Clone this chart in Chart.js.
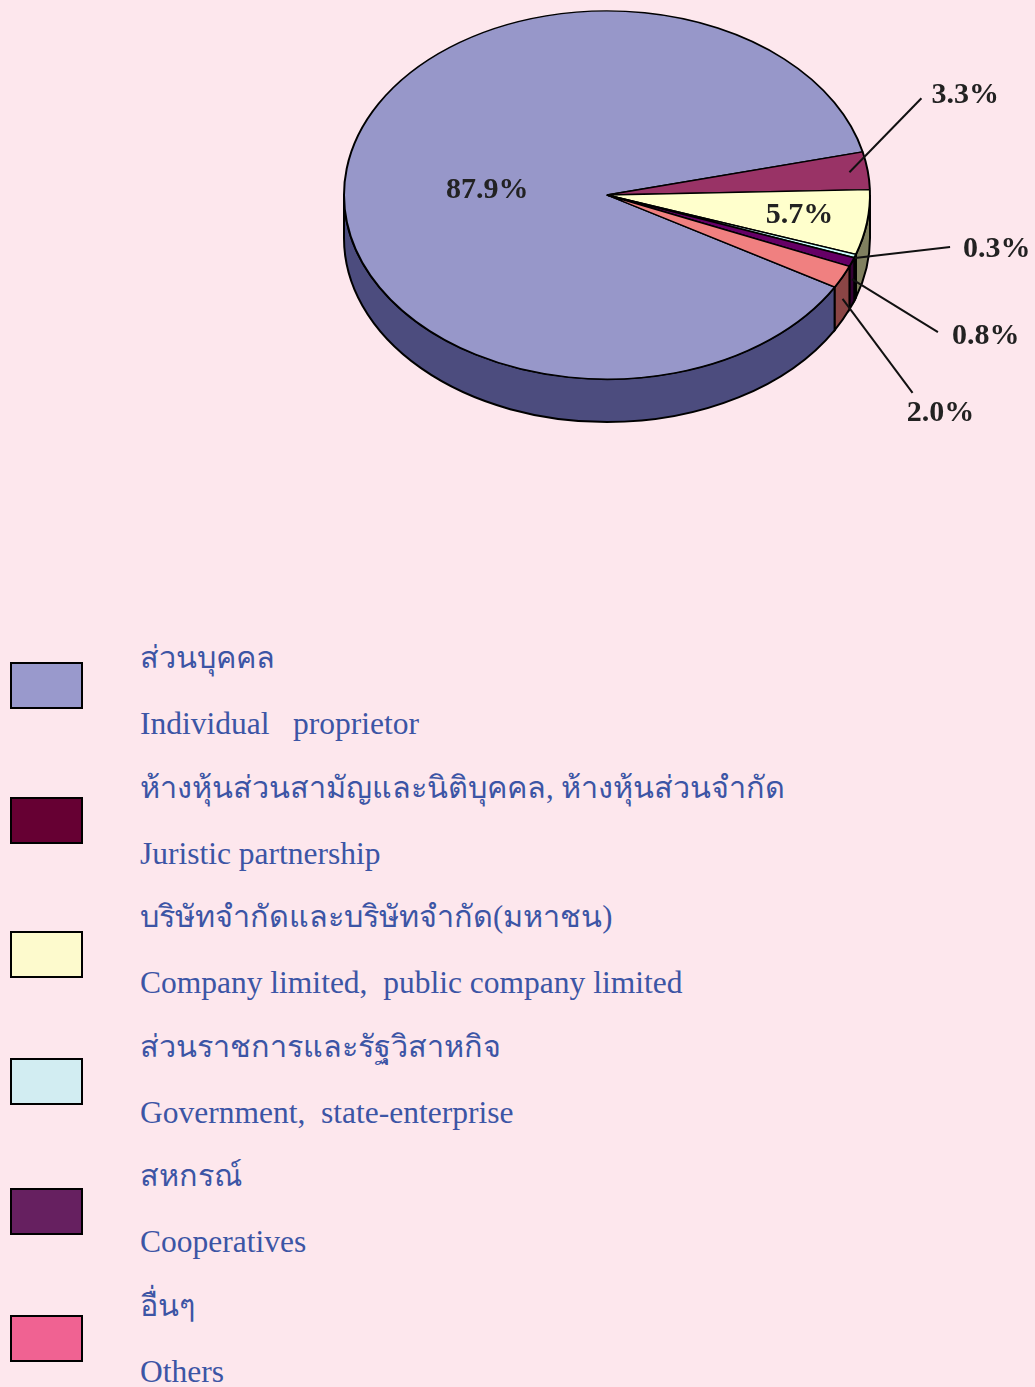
<!DOCTYPE html>
<html>
<head>
<meta charset="utf-8">
<script src="https://cdn.jsdelivr.net/npm/chart.js@4"></script>
<style>
  html, body { margin: 0; padding: 0; }
  body { width: 1035px; height: 1387px; background: #fde7ed; position: relative; overflow: hidden; }
  #pieChart { position: absolute; left: 0; top: 0; }
  .swatch { position: absolute; left: 10px; width: 69px; height: 43px; border: 2px solid #000; }
  .thai, .eng { position: absolute; left: 140px; color: #3c55a5; white-space: pre; line-height: 1; }
  .thai { font-family: "Liberation Serif", "Noto Sans", "DejaVu Sans", serif; font-size: 30.6px; }
  .eng { font-family: "Liberation Serif", "Times New Roman", serif; font-size: 31.5px; }
</style>
</head>
<body>
<canvas id="pieChart" width="1035" height="560"></canvas>
<div id="legend"></div>
<script>
// Share of establishments by legal organization (%)
const shares = [87.9, 3.3, 5.7, 0.3, 0.8, 2.0];
const thaiLabels = [
    'ส่วนบุคคล',
    'ห้างหุ้นส่วนสามัญและนิติบุคคล, ห้างหุ้นส่วนจำกัด',
    'บริษัทจำกัดและบริษัทจำกัด(มหาชน)',
    'ส่วนราชการและรัฐวิสาหกิจ',
    'สหกรณ์',
    'อื่นๆ'
];
const englishLabels = [
    'Individual   proprietor',
    'Juristic partnership',
    'Company limited,  public company limited',
    'Government,  state-enterprise',
    'Cooperatives',
    'Others'
];

// colours
const topColors = ['#9797c9', '#993366', '#ffffcc', '#ccffff', '#660066', '#f08080'];
const sideColors = ['#4c4c7e', '#4d1a33', '#80805f', '#668080', '#330033', '#8a4545'];
const legendColors = ['#9999cc', '#660033', '#fdfacd', '#d2edf2', '#662060', '#f06292'];

// 3d look
const flatten = 0.70;
const depth = 43;
const pieCenterY = 195;

// label layout per slice: inside radius, or leader line
const labelLayout = [
    { inside: 0.46, ty: 7 },
    { r: 0.93, drop: 0, dx: 72, dy: -74, tx: 10, ty: -3, align: 'left' },
    { inside: 0.74, ty: 0 },
    { r: 1.0, drop: 2, dx: 95, dy: -11, tx: 13, ty: 2, align: 'left' },
    { r: 1.0, drop: 17, dx: 86, dy: 53, tx: 14, ty: 4, align: 'left' },
    { r: 1.0, drop: 22, dx: 70, dy: 94, tx: 28, ty: 20, align: 'center' }
];

// legend swatch offsets below each row top (they are not evenly spaced)
const swatchOffsets = [22, 27, 32, 29, 30, 27];

function screenPoint(cx, cy, R, a, frac) {
    return {
        x: cx + R * frac * Math.cos(a),
        y: cy + R * frac * flatten * Math.sin(a)
    };
}

const pie3d = {
    id: 'pie3d',
    beforeDatasetsDraw(chart) {
        const ctx = chart.ctx;
        const arcs = chart.getDatasetMeta(0).data;
        const cx = arcs[0].x;
        const R = arcs[0].outerRadius;
        const ry = R * flatten;
        // side walls, front half only
        arcs.forEach((arc, i) => {
            let s = arc.startAngle, e = arc.endAngle;
            for (let k = -1; k <= 1; k++) {
                const lo = Math.max(s, k * 2 * Math.PI);
                const hi = Math.min(e, k * 2 * Math.PI + Math.PI);
                if (hi <= lo) continue;
                ctx.save();
                ctx.beginPath();
                ctx.ellipse(cx, pieCenterY, R, ry, 0, lo, hi);
                ctx.ellipse(cx, pieCenterY + depth, R, ry, 0, hi, lo, true);
                ctx.closePath();
                ctx.fillStyle = sideColors[i];
                ctx.fill();
                ctx.lineWidth = 2;
                ctx.strokeStyle = '#000';
                ctx.stroke();
                ctx.restore();
            }
        });
        // flatten the top
        ctx.save();
        ctx.translate(cx, pieCenterY);
        ctx.scale(1, flatten);
        ctx.translate(-cx, -arcs[0].y);
    },
    afterDatasetsDraw(chart) {
        const ctx = chart.ctx;
        ctx.restore();
        const arcs = chart.getDatasetMeta(0).data;
        const cx = arcs[0].x;
        const R = arcs[0].outerRadius;
        ctx.save();
        ctx.font = 'bold 30px "Liberation Serif", "Times New Roman", serif';
        ctx.fillStyle = '#222';
        ctx.textBaseline = 'middle';
        arcs.forEach((arc, i) => {
            const mid = (arc.startAngle + arc.endAngle) / 2;
            const lay = labelLayout[i];
            const text = shares[i].toFixed(1) + '%';
            if (lay.inside) {
                const p = screenPoint(cx, pieCenterY, R, mid, lay.inside);
                ctx.textAlign = 'center';
                ctx.fillText(text, p.x, p.y + lay.ty);
                return;
            }
            const p = screenPoint(cx, pieCenterY, R, mid, lay.r);
            const sx = p.x, sy = p.y + lay.drop;
            const ex = sx + lay.dx, ey = sy + lay.dy;
            ctx.beginPath();
            ctx.moveTo(sx, sy);
            ctx.lineTo(ex, ey);
            ctx.lineWidth = 2;
            ctx.strokeStyle = '#111';
            ctx.stroke();
            ctx.textAlign = lay.align;
            ctx.fillText(text, ex + lay.tx, ey + lay.ty);
        });
        ctx.restore();
    }
};

new Chart(document.getElementById('pieChart').getContext('2d'), {
    type: 'pie',
    data: {
        labels: englishLabels,
        datasets: [{
            data: shares,
            backgroundColor: topColors,
            borderColor: '#000',
            borderWidth: 2,
            clip: false
        }]
    },
    options: {
        responsive: false,
        devicePixelRatio: 1,
        animation: false,
        rotation: 120,
        layout: { padding: { left: 343, right: 164, top: 16, bottom: 16 } },
        plugins: {
            legend: { display: false },
            tooltip: { enabled: false }
        }
    },
    plugins: [pie3d]
});

// legend below the pie
const legend = document.getElementById('legend');
const rowTop = 640, rowStep = 129.6;
thaiLabels.forEach((thai, i) => {
    const top = rowTop + i * rowStep;
    const sw = document.createElement('div');
    sw.className = 'swatch';
    sw.style.top = (top + swatchOffsets[i]) + 'px';
    sw.style.background = legendColors[i];
    legend.appendChild(sw);

    const t = document.createElement('div');
    t.className = 'thai';
    t.style.top = (top + 3) + 'px';
    t.textContent = thai;
    legend.appendChild(t);

    const e = document.createElement('div');
    e.className = 'eng';
    e.style.top = (top + 68) + 'px';
    e.textContent = englishLabels[i];
    legend.appendChild(e);
});
</script>
</body>
</html>
